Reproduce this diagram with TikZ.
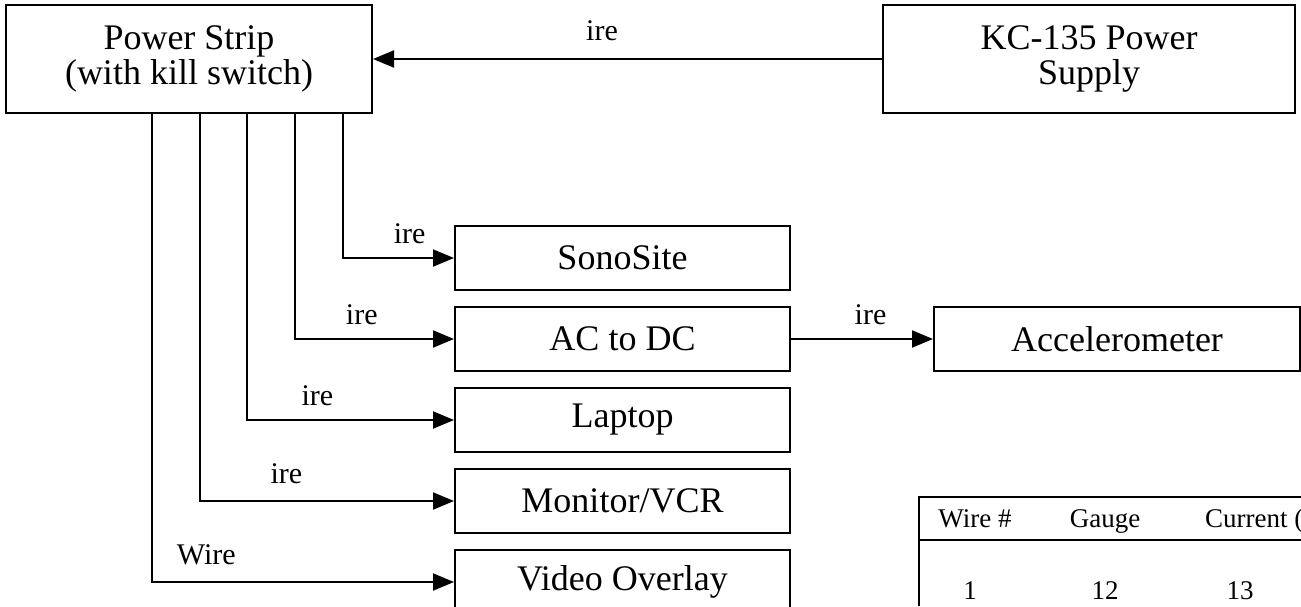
\documentclass[tikz,border=0pt]{standalone}
\usepackage{fontspec}
\setmainfont{Liberation Serif}
\usetikzlibrary{arrows.meta, positioning}

\begin{document}
\begin{tikzpicture}[
  x=0.5pt, y=-0.5pt,
  blk/.style={draw, line width=1pt, minimum width=167.5pt, minimum height=32pt, inner sep=0pt, align=center, font=\fontsize{18}{17.5}\selectfont},
  wire/.style={-{Triangle[length=10.5pt, width=8.5pt]}, line width=1pt},
  lbl/.style={font=\fontsize{15}{15}\selectfont, anchor=base, inner sep=0pt, yshift=7.5pt},
  cell/.style={font=\fontsize{13.5}{13.5}\selectfont, anchor=base},
  node distance=7.5pt and 71pt
]
\useasboundingbox (0,0) rectangle (1301,606);

\node[blk, minimum width=183pt, minimum height=54pt] (strip) at (189,59) {Power Strip\\(with kill switch)};
\node[blk, minimum width=206pt, minimum height=54pt] (kc) at (1089,59) {KC-135 Power\\Supply};

\node[blk] (sono) at (622.5,258) {SonoSite};
\node[blk, below=of sono] (acdc) {AC to DC};
\node[blk, below=of acdc] (laptop) {Laptop};
\node[blk, below=of laptop] (vcr) {Monitor/VCR};
\node[blk, below=of vcr] (overlay) {Video Overlay};
\node[blk, minimum width=183pt, right=of acdc] (accel) {Accelerometer};

% taps on the bottom of the strip
\coordinate (tap1) at (343,113);
\coordinate (tap2) at (295,113);
\coordinate (tap3) at (247,113);
\coordinate (tap4) at (200,113);
\coordinate (tap5) at (152,113);

\draw[wire] (kc) -- node[lbl, pos=0.55, yshift=2pt] {ire} (strip);
\draw[wire] (tap1) |- node[lbl, pos=0.8] {ire} (sono);
\draw[wire] (tap2) |- node[lbl, pos=0.71] {ire} (acdc);
\draw[wire] (tap3) |- node[lbl, pos=0.67] {ire} (laptop);
\draw[wire] (tap4) |- node[lbl, pos=0.67, yshift=1.5pt] {ire} (vcr);
\draw[wire] (tap5) |- node[lbl, pos=0.59, yshift=1.5pt] {Wire} (overlay);
\draw[wire] (acdc) -- node[lbl, pos=0.56] {ire} (accel);

% wire table
\draw[line width=1pt] (1301,497) -| (919,606);
\draw[line width=1pt] (919,540) -- (1301,540);
\node[cell] (hwire) at (975,527) {Wire \#};
\node[cell] (hgauge) at (1105,527) {Gauge};
\node[cell, anchor=base west] (hcurr) at (1198,527) {Current (A)};
\node[cell] (c1) at (970,599) {1};
\node[cell] (c2) at (1105,599) {12};
\node[cell] (c3) at (1240,599) {13};
\end{tikzpicture}
\end{document}
